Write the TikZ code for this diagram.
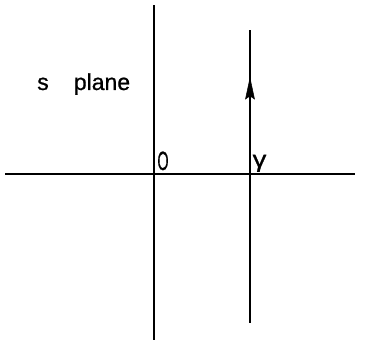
\documentclass[tikz,border=0pt]{standalone}
\usepackage{fontspec}
\setmainfont{Liberation Sans}
\newfontfamily\lblfont[FakeBold=0.8]{Liberation Sans}
\begin{document}
\begin{tikzpicture}[x=1pt,y=1pt,
  axis/.style={line width=1.8pt},
  lbl/.style={inner sep=0pt,font=\lblfont\fontsize{23}{27}\selectfont},
  head/.style={fill=black,draw=black,line width=0.5pt,line join=miter}]
\useasboundingbox (0,0) rectangle (369,344);
\coordinate (xl) at (5,170);
\coordinate (xr) at (355,170);
\coordinate (yb) at (154,4);
\coordinate (yt) at (154,339);
\coordinate (gb) at (250,21);
\coordinate (gt) at (250,314);
\coordinate (tip) at (250,266);
\draw[axis] (xl) -- (xr);
\draw[axis] (yb) -- (yt);
\draw[axis] (gb) -- (gt);
\fill[head] (tip) -- ([shift={(4.5,-21)}]tip) -- ([shift={(0,-18)}]tip) -- ([shift={(-4.5,-21)}]tip) -- cycle;
\node[lbl,anchor=base] (s) at (43,254) {s};
\node[lbl,anchor=base] (plane) at (102,254) {plane};
\node[lbl,anchor=base] (o) at (163,174) {\scalebox{0.62}[1.15]{O}};
\node[lbl,anchor=base] (g) at (259.5,177) {\scalebox{1.2}[1.0]{γ}};
\end{tikzpicture}
\end{document}
